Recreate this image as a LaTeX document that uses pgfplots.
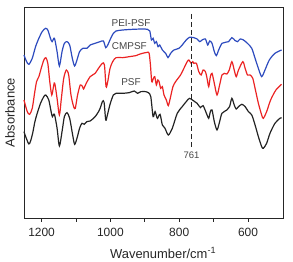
\documentclass[border=0pt]{standalone}
\usepackage{pgfplots}
\pgfplotsset{compat=1.18}
\usepackage{fontspec}
\setmainfont{Liberation Sans}
\definecolor{cblue}{RGB}{45,75,190}
\definecolor{cred}{RGB}{235,35,35}
\definecolor{cblack}{RGB}{35,35,35}
\definecolor{ctext}{RGB}{70,70,70}
\begin{document}
\begin{tikzpicture}
\begin{axis}[
  name=ax,
  scale only axis,
  width=259.5bp, height=211.3bp,
  x dir=reverse,
  xmin=497, xmax=1251,
  ymin=-655, ymax=-21,
  xtick={600,800,1000,1200},
  minor xtick={700,900,1100},
  xtick pos=bottom,
  tick align=outside,
  major tick length=3.5bp,
  minor tick length=3.2bp,
  ytick=\empty,
  axis line style={line width=0.8bp, color=black!85},
  every tick/.style={line width=0.8bp, color=black!85},
  /pgf/number format/assume math mode=true,
  /pgf/number format/1000 sep={},
  ticklabel style={font=\fontsize{12}{14}\selectfont, color=black!85},
  xticklabel style={yshift=-2.5bp},
  xlabel={Wavenumber/cm\textsuperscript{-1}},
  xlabel style={font=\fontsize{13}{15}\selectfont, color=black!85, at={(axis description cs:0.536,0)}, anchor=center, yshift=-34.5bp},
  ylabel={Absorbance},
  ylabel style={font=\fontsize{13}{15}\selectfont, color=black!85, at={(axis description cs:-0.035,0.5)}, anchor=south, inner sep=0pt},
  clip=false,
]
\addplot[cblack, line width=1.2bp, smooth, tension=0.45] coordinates {
(1251.1,-395)(1236.7,-432)(1227.0,-405)(1219.3,-365)(1212.6,-340)(1203.0,-310)(1193.4,-290)(1187.6,-285)(1179.0,-300)(1172.2,-335)(1168.4,-350)(1162.6,-343)(1154.9,-385)(1148.2,-438)(1140.5,-395)(1133.7,-350)(1126.0,-338)(1118.3,-355)(1109.6,-405)(1103.9,-433)(1097.1,-415)(1089.5,-385)(1082.7,-370)(1076.0,-373)(1068.3,-365)(1058.7,-363)(1044.3,-350)(1031.8,-330)(1023.1,-305)(1018.3,-307)(1013.5,-360)(1008.7,-345)(1001.0,-313)(991.4,-285)(983.6,-280)(964.4,-280)(945.2,-278)(930.7,-273)(921.1,-280)(911.5,-275)(897.1,-275)(889.4,-278)(882.6,-290)(875.9,-350)(870.2,-335)(863.4,-355)(855.7,-343)(849.0,-375)(841.3,-385)(831.7,-405)(820.1,-385)(805.7,-340)(791.3,-320)(779.7,-305)(770.1,-295)(757.6,-303)(748.0,-310)(738.3,-323)(730.6,-317)(719.1,-345)(714.3,-355)(709.5,-335)(704.7,-330)(698.0,-365)(690.2,-390)(682.6,-365)(675.8,-340)(661.4,-330)(653.7,-320)(647.0,-295)(640.2,-315)(634.4,-327)(627.7,-320)(618.1,-313)(608.5,-320)(598.9,-335)(589.2,-345)(579.6,-375)(570.0,-410)(560.4,-440)(555.6,-445)(546.0,-430)(536.3,-400)(521.9,-370)(507.5,-355)(502.6,-353)
};
\addplot[cred, line width=1.2bp, smooth, tension=0.45] coordinates {
(1251.1,-300)(1241.5,-335)(1234.7,-343)(1227.0,-325)(1220.3,-280)(1214.5,-245)(1207.8,-230)(1201.0,-205)(1193.4,-180)(1187.6,-173)(1181.8,-190)(1176.1,-245)(1170.3,-285)(1164.5,-255)(1161.6,-250)(1154.9,-295)(1148.2,-345)(1142.4,-295)(1135.6,-235)(1127.9,-210)(1121.2,-225)(1114.5,-285)(1106.8,-320)(1102.0,-325)(1095.3,-285)(1087.5,-255)(1080.8,-260)(1077.9,-267)(1070.2,-250)(1058.7,-230)(1044.3,-220)(1034.6,-205)(1023.1,-190)(1017.3,-195)(1012.5,-260)(1007.7,-245)(1001.0,-205)(993.3,-185)(983.6,-173)(964.4,-173)(945.2,-170)(925.9,-167)(916.3,-163)(906.7,-160)(892.3,-157)(887.4,-160)(883.6,-195)(879.8,-245)(875.0,-235)(871.1,-230)(866.3,-255)(862.4,-240)(858.6,-245)(853.8,-265)(849.0,-260)(844.2,-285)(837.4,-300)(831.7,-317)(825.0,-290)(818.2,-260)(810.5,-245)(796.1,-225)(786.4,-205)(776.8,-185)(772.0,-180)(765.3,-190)(760.5,-185)(757.6,-190)(750.0,-190)(743.2,-215)(736.4,-225)(730.6,-210)(723.9,-215)(719.1,-235)(714.3,-260)(709.5,-230)(704.7,-220)(698.0,-250)(690.2,-285)(682.6,-255)(675.8,-225)(669.1,-220)(661.4,-222)(654.6,-210)(647.0,-185)(640.2,-210)(634.4,-230)(627.7,-210)(615.2,-185)(608.5,-205)(601.7,-225)(594.0,-225)(586.3,-235)(579.6,-265)(570.0,-310)(560.4,-345)(555.6,-355)(546.0,-335)(534.4,-300)(519.0,-270)(502.6,-253)
};
\addplot[cblue, line width=1.2bp, smooth, tension=0.45] coordinates {
(1251.1,-165)(1243.4,-185)(1236.7,-193)(1227.0,-175)(1217.4,-140)(1207.8,-115)(1198.2,-95)(1188.6,-85)(1181.8,-90)(1174.1,-115)(1169.3,-125)(1162.6,-115)(1154.9,-155)(1148.2,-198)(1140.5,-155)(1133.7,-130)(1126.0,-125)(1118.3,-135)(1110.6,-175)(1103.9,-198)(1097.1,-180)(1089.5,-155)(1079.9,-145)(1068.3,-145)(1058.7,-135)(1044.3,-130)(1029.8,-125)(1020.2,-123)(1013.5,-143)(1007.7,-135)(999.0,-115)(991.4,-100)(983.6,-93)(964.4,-90)(935.5,-88)(906.7,-87)(892.3,-88)(885.5,-93)(880.7,-120)(875.9,-115)(871.1,-130)(866.3,-125)(861.5,-140)(856.7,-135)(849.0,-150)(839.4,-160)(832.6,-173)(825.0,-160)(815.3,-150)(800.9,-145)(791.3,-135)(779.7,-120)(770.1,-112)(757.6,-113)(748.0,-117)(740.3,-125)(733.5,-120)(723.9,-117)(717.2,-135)(711.4,-123)(704.7,-130)(698.0,-155)(692.2,-167)(685.4,-150)(675.8,-130)(666.2,-127)(656.6,-125)(647.0,-113)(637.3,-122)(630.6,-125)(622.9,-117)(613.3,-120)(601.7,-130)(589.2,-145)(579.6,-175)(570.0,-205)(560.4,-230)(550.8,-210)(538.2,-180)(521.9,-160)(502.6,-150)
};
\addplot[black!85, line width=1.1bp, dashed, dash pattern=on 5bp off 3bp] coordinates {(764,-42)(764,-450)};
\node[font=\fontsize{9.5}{11}\selectfont, color=ctext] at (axis cs:764,-467) {761};
\node[font=\fontsize{10}{12}\selectfont, color=ctext] at (axis cs:940,-68) {PEI-PSF};
\node[font=\fontsize{10}{12}\selectfont, color=ctext] at (axis cs:945,-138) {CMPSF};
\node[font=\fontsize{10}{12}\selectfont, color=ctext] at (axis cs:940,-245) {PSF};
\coordinate (sw) at (rel axis cs:0,0);
\coordinate (ne) at (rel axis cs:1,1);
\end{axis}
\path (sw) +(-24bp,-43.7bp) (ne) +(9.5bp,7bp);
\end{tikzpicture}
\end{document}
